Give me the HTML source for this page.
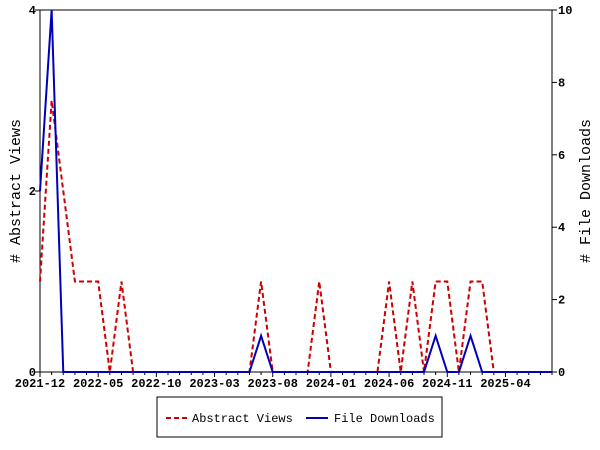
<!DOCTYPE html>
<html><head><meta charset="utf-8"><style>
html,body{margin:0;padding:0;background:#fff;}
svg{display:block;font-family:"Liberation Mono",monospace;}
</style></head><body>
<svg id="chart" width="600" height="450">
<g id="axes"></g><g id="series"></g>
<text x="20" y="191" transform="rotate(-90 20 191)" text-anchor="middle" font-size="15"># Abstract Views</text>
<text x="590" y="191" transform="rotate(-90 590 191)" text-anchor="middle" font-size="15"># File Downloads</text>
<g>
<rect x="157" y="397" width="285" height="40" fill="#fff" stroke="#000"/>
<g>
<line x1="166" y1="418" x2="188" y2="418" stroke="#cc0000" stroke-width="2" stroke-dasharray="5,3"/>
<text x="192" y="422" font-size="12">Abstract Views</text></g>
<g>
<line x1="306" y1="418" x2="328" y2="418" stroke="#0000bb" stroke-width="2"/>
<text x="334" y="422" font-size="12">File Downloads</text></g>
</g>
</svg>
<script>
const monthCount = 45;
const xTickLabels = ["2021-12","2022-05","2022-10","2023-03","2023-08","2024-01","2024-06","2024-11","2025-04"];
const leftTicks = [0,2,4];
const rightTicks = [0,2,4,6,8,10];
const abstractViews = [1,3,2,1,1,1,0,1,0,0,0,0,0,0,0,0,0,0,0,1,0,0,0,0,1,0,0,0,0,0,1,0,1,0,1,1,0,1,1,0,0,0,0,0,0];
const fileDownloads = [5,10,0,0,0,0,0,0,0,0,0,0,0,0,0,0,0,0,0,1,0,0,0,0,0,0,0,0,0,0,0,0,0,0,1,0,0,1,0,0,0,0,0,0,0];
const L=40,R=552,T=10,B=372,NS="http://www.w3.org/2000/svg";
const x=i=>L+(R-L)*i/(monthCount-1);
const yL=v=>B-(B-T)*v/4;
const yR=v=>B-(B-T)*v/10;
const ax=document.getElementById('axes'),se=document.getElementById('series');
function mk(t,a,p){const e=document.createElementNS(NS,t);for(const k in a)e.setAttribute(k,a[k]);p.appendChild(e);return e;}
const frame=mk('rect',{x:L,y:T,width:R-L,height:B-T,fill:'none',stroke:'#000'},ax);


for(let i=0;i<monthCount;i++){mk('line',{x1:x(i),x2:x(i),y1:B,y2:B+(i%5==0?5:3),stroke:'#000'},ax);}
xTickLabels.forEach((s,j)=>{const t=mk('text',{x:x(j*5),y:B+15,'text-anchor':'middle','font-size':12,'font-weight':'bold'},ax);t.textContent=s;

});
leftTicks.forEach(v=>{mk('line',{x1:L-5,x2:L,y1:yL(v),y2:yL(v),stroke:'#000'},ax);const t=mk('text',{x:L-4,y:yL(v)+4,'text-anchor':'end','font-size':12,'font-weight':'bold'},ax);t.textContent=v;

});
rightTicks.forEach(v=>{mk('line',{x1:R,x2:R+5,y1:yR(v),y2:yR(v),stroke:'#000'},ax);const t=mk('text',{x:R+6,y:yR(v)+4,'font-size':12,'font-weight':'bold'},ax);t.textContent=v;

});
const pa=mk('polyline',{points:abstractViews.map((v,i)=>x(i)+','+yL(v)).join(' '),fill:'none',stroke:'#cc0000','stroke-width':2,'stroke-dasharray':'5,3'},se);


const pd=mk('polyline',{points:fileDownloads.map((v,i)=>x(i)+','+yR(v)).join(' '),fill:'none',stroke:'#0000bb','stroke-width':2},se);


</script>
</body></html>
